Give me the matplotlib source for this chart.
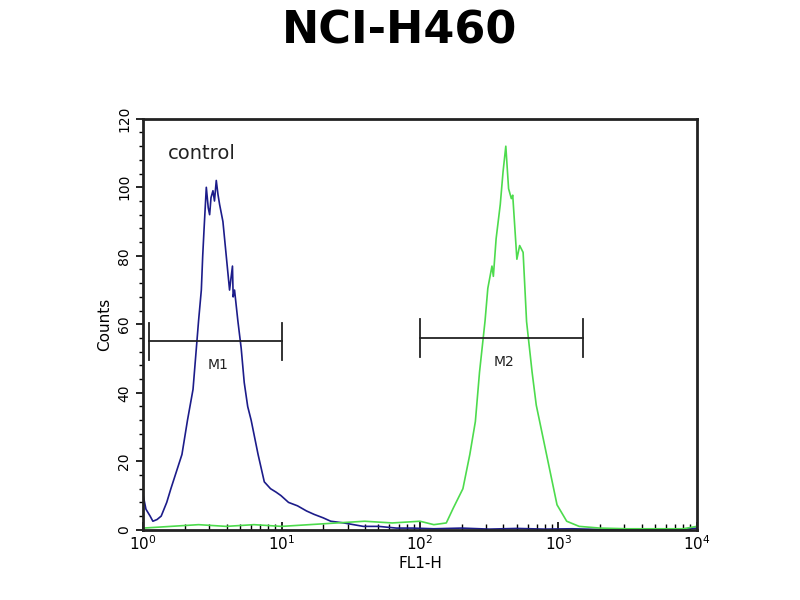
import numpy as np
import matplotlib
matplotlib.use("Agg")
import matplotlib.pyplot as plt
from matplotlib.ticker import MultipleLocator, LogLocator, NullFormatter

# control histogram (blue): log10(FL1-H) positions and counts
control_log = [0.0, 0.02, 0.05, 0.07, 0.1, 0.13, 0.17, 0.2, 0.24, 0.28, 0.32, 0.36, 0.38, 0.40,
               0.42, 0.43, 0.44, 0.456, 0.47, 0.48, 0.49, 0.504, 0.515, 0.528, 0.54, 0.552,
               0.576, 0.6, 0.624, 0.645, 0.65, 0.66, 0.684, 0.708, 0.73, 0.755, 0.78, 0.83,
               0.875, 0.92, 0.96, 0.995, 1.05, 1.115, 1.18, 1.235, 1.3, 1.355, 1.45, 1.59,
               1.7, 1.83, 1.95, 2.1, 2.3, 2.5, 2.7, 2.9, 3.1, 3.3, 3.5, 3.7, 3.9, 4.0]
control_cnt = [10, 6, 4, 2.5, 3, 4, 8, 12, 17, 22, 32, 41, 51, 61,
               70, 80, 88, 100, 94, 92, 97, 99, 96, 102, 98, 95,
               90, 80, 70, 77, 68, 70, 61, 53, 43, 36, 32, 22,
               14, 12, 11, 10, 8, 7, 5.5, 4.5, 3.5, 2.5, 2, 1,
               1, 0.5, 0.5, 0.3, 0.5, 0.2, 0.4, 0.2, 0.3, 0.1, 0.2, 0.1, 0.2, 0.5]

# NCI-H460 histogram (green)
sample_log = [0.0, 0.2, 0.4, 0.6, 0.8, 1.0, 1.2, 1.4, 1.6, 1.8, 2.0, 2.1, 2.19, 2.24, 2.31,
              2.36, 2.40, 2.43, 2.47, 2.49, 2.52, 2.53, 2.55, 2.58, 2.60, 2.62, 2.64, 2.66,
              2.67, 2.70, 2.72, 2.745, 2.77, 2.81, 2.84, 2.89, 2.94, 2.99, 3.06, 3.15, 3.3,
              3.5, 3.7, 3.9, 4.0]
sample_cnt = [0.5, 1, 1.5, 1, 1.5, 1, 1.5, 2, 2.5, 2, 2.5, 1.5, 2, 6.3, 12,
              22, 31.6, 46, 61, 70.5, 77, 74, 85, 95, 104.5, 112, 99.6, 96.7,
              97.7, 79, 83, 81, 60.8, 46, 36.4, 26.7, 17, 7.3, 2.5, 1, 0.5,
              0.3, 0.3, 0.3, 1]

# marker gates: (left, right, level, label)
gate_names = ["M1", "M2"]
gate_left = [1.11, 100]
gate_right = [10, 1500]
gate_level = [55, 56]

fig = plt.figure(figsize=(8, 6), dpi=100)
ax = fig.add_axes([0.179, 0.117, 0.692, 0.685])

ax.plot(10 ** np.array(control_log), control_cnt, color="#1c1c8a", lw=1.2)
ax.plot(10 ** np.array(sample_log), sample_cnt, color="#4ddb4d", lw=1.2)

for name, lo, hi, lev in zip(gate_names, gate_left, gate_right, gate_level):
  ax.plot([lo, hi], [lev, lev], color="#222222", lw=1.3)
  ax.plot([lo, lo], [lev - 5.5, lev + 5.5], color="#222222", lw=1.3)
  ax.plot([hi, hi], [lev - 5.5, lev + 5.5], color="#222222", lw=1.3)
  ax.text(np.sqrt(lo * hi) * 1.05, lev - 7, name, ha="center", va="center",
          fontsize=10, color="#222222")

ax.text(1.5, 110, "control", fontsize=14, color="#222222", va="center")

ax.set_xscale("log")
ax.set_xlim(1, 1e4)
ax.set_ylim(0, 120)
ax.yaxis.set_major_locator(MultipleLocator(20))
ax.yaxis.set_minor_locator(MultipleLocator(4))
ax.xaxis.set_minor_locator(LogLocator(base=10, subs=np.arange(2, 10)))
ax.xaxis.set_minor_formatter(NullFormatter())

for lbl in ax.get_yticklabels():
  lbl.set_rotation(90)
  lbl.set_va("center")
ax.tick_params(axis="y", direction="out", length=5, width=1.2, labelsize=10)
ax.tick_params(axis="y", which="minor", direction="out", length=3, width=1)
ax.tick_params(axis="x", direction="in", length=6, width=1.2, labelsize=11)
ax.tick_params(axis="x", which="minor", direction="in", length=4, width=1)

for sp in ax.spines.values():
  sp.set_linewidth(2)
  sp.set_color("#222222")

ax.set_xlabel("FL1-H", fontsize=11, labelpad=2)
ax.set_ylabel("Counts", fontsize=11, labelpad=4)
fig.suptitle("NCI-H460", fontsize=32, fontweight="bold", y=0.985)

fig.savefig("out.png", dpi=100)
